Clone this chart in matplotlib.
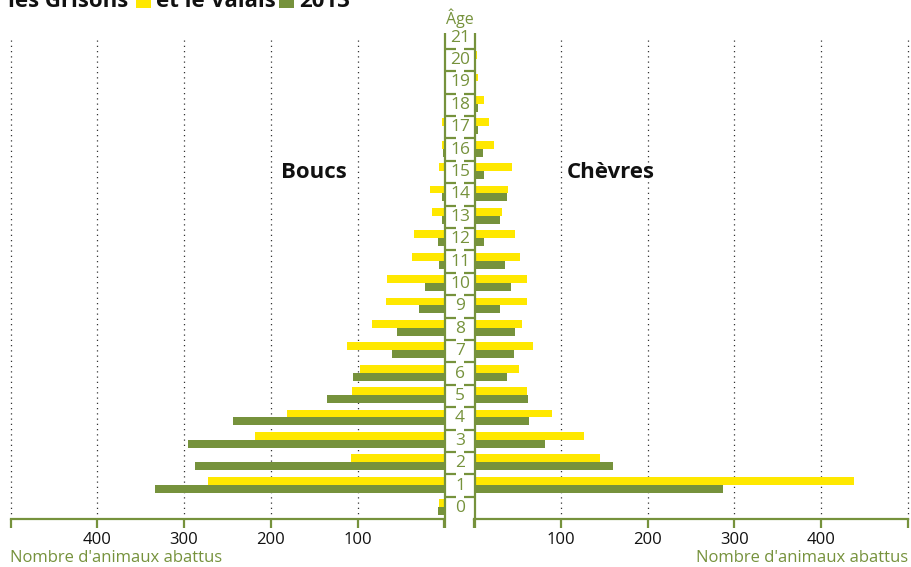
import matplotlib
matplotlib.use("Agg")
import matplotlib.pyplot as plt
from matplotlib.patches import Rectangle

plt.rcParams['font.family'] = ['Open Sans', 'DejaVu Sans']

# ---- data ----
ages = list(range(22))
boucs_grisons = [6, 272, 108, 218, 182, 107, 97, 112, 83, 67, 66, 37, 35, 14, 17, 6, 3, 3, 0, 0, 0, 0]
boucs_valais = [8, 333, 287, 295, 244, 135, 105, 60, 55, 29, 23, 6, 8, 3, 3, 0, 2, 0, 0, 0, 0, 0]
chevres_grisons = [0, 438, 145, 127, 90, 61, 52, 68, 55, 61, 61, 53, 47, 32, 39, 44, 23, 17, 12, 5, 3, 0]
chevres_valais = [0, 287, 160, 82, 63, 62, 38, 46, 47, 30, 43, 36, 12, 30, 38, 12, 10, 5, 5, 0, 0, 0]
tick_values = [100, 200, 300, 400]
grid_values = [100, 200, 300, 400, 500]

YELLOW = '#FFE800'
GREEN = '#76923C'
W, H = 912, 567

fig = plt.figure(figsize=(W / 100, H / 100), dpi=100)


def rect(x0, y0, x1, y1):
    return [x0 / W, 1 - y1 / H, (x1 - x0) / W, (y1 - y0) / H]


YLIM = (-0.49, 21.21)
ROW_PX = 22.4

axL = fig.add_axes(rect(10.5, 33, 444.5, 519))
axR = fig.add_axes(rect(474, 33, 908, 519))
axC = fig.add_axes(rect(440, 33, 480, 519))

for ax, gr, vs, xlim in [(axL, boucs_grisons, boucs_valais, (500, 0)),
                         (axR, chevres_grisons, chevres_valais, (0, 500))]:
    ax.barh([a + 0.22 for a in ages], gr, height=0.35, color=YELLOW, zorder=3)
    ax.barh([a - 0.13 for a in ages], vs, height=0.36, color=GREEN, zorder=3)
    ax.set_xlim(*xlim)
    ax.set_ylim(*YLIM)
    for s in ['top', 'left', 'right']:
        ax.spines[s].set_visible(False)
    ax.spines['bottom'].set_color(GREEN)
    ax.spines['bottom'].set_linewidth(1.6)
    ax.set_yticks([])
    ax.set_xticks([0] + tick_values + [500])
    ax.set_xticklabels([''] + [str(v) for v in tick_values] + [''])
    ax.tick_params(axis='x', direction='out', length=6.5, width=1.6, color=GREEN,
                   labelcolor='#111111', labelsize=12, pad=3)
    ax.vlines(grid_values, -0.49, 21.0, colors='#333333', linestyles=(0, (1, 3.2)),
              linewidth=0.9, zorder=1, clip_on=False)
    ax.set_facecolor('none')

axL.text(150, 15, 'Boucs', fontsize=16, fontweight='bold', ha='center', va='center', color='#111111')
axR.text(158, 15, 'Chèvres', fontsize=16, fontweight='bold', ha='center', va='center', color='#111111')

# centre column
axC.set_xlim(0, 40)
axC.set_ylim(*YLIM)
axC.axis('off')
bottom = YLIM[0] - 9 / ROW_PX
for xl in [5, 35]:
    axC.plot([xl, xl], [bottom, YLIM[1]], color=GREEN, lw=1.6, clip_on=False, solid_capstyle='butt')
for a in ages[:-1]:
    axC.plot([5, 16], [a + 0.5, a + 0.5], color=GREEN, lw=1.6, solid_capstyle='butt', clip_on=False)
    axC.plot([24, 35], [a + 0.5, a + 0.5], color=GREEN, lw=1.6, solid_capstyle='butt', clip_on=False)
for a in ages:
    axC.text(20, a, str(a), ha='center', va='center', fontsize=12.5, color=GREEN)

fig.text(460 / W, 1 - 18 / H, 'Âge', ha='center', va='center', fontsize=11.5, color=GREEN)
fig.text(10 / W, 1 - 558 / H, "Nombre d'animaux abattus", ha='left', va='center', fontsize=12, color=GREEN)
fig.text(908 / W, 1 - 558 / H, "Nombre d'animaux abattus", ha='right', va='center', fontsize=12, color=GREEN)

# title (cut off at the top edge, as in the reference)
tb = 1 - 7 / H
fig.text(8 / W, tb, 'les Grisons', ha='left', va='baseline', fontsize=16, fontweight='bold', color='#111111')
fig.patches.append(Rectangle((136 / W, 1 - 8 / H), 15 / W, 15 / H, transform=fig.transFigure,
                             facecolor=YELLOW, edgecolor='none'))
fig.text(156 / W, tb, 'et le Valais', ha='left', va='baseline', fontsize=16, fontweight='bold', color='#111111')
fig.patches.append(Rectangle((279 / W, 1 - 8 / H), 15 / W, 15 / H, transform=fig.transFigure,
                             facecolor=GREEN, edgecolor='none'))
fig.text(299 / W, tb, '2013', ha='left', va='baseline', fontsize=16, fontweight='bold', color='#111111')

fig.savefig('out.png', dpi=100)
